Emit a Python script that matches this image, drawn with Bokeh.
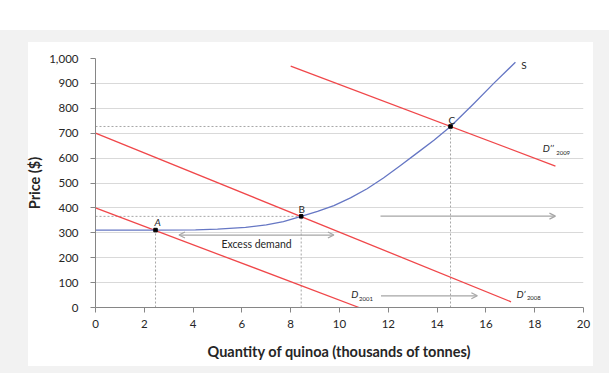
from bokeh.plotting import figure
from bokeh.models import (Range1d, FixedTicker, NumeralTickFormatter, Label,
                          Arrow, OpenHead)
from bokeh.embed import file_html
from bokeh.resources import INLINE

# ---- data ----
x_ticks = [0, 2, 4, 6, 8, 10, 12, 14, 16, 18, 20]
y_ticks = [0, 100, 200, 300, 400, 500, 600, 700, 800, 900, 1000]

supply_q = [0, 2.46, 4.1, 5.0, 6.15, 7.0, 7.7, 8.43, 9.1, 9.77, 10.45, 11.13, 11.8,
            12.5, 13.2, 13.87, 14.55, 15.5, 16.32, 17.21]
supply_p = [311, 311, 312, 315, 322, 332, 345, 366, 386, 409, 440, 477, 520,
            570, 622, 672, 727, 818, 900, 985]

d2001_q = [0, 10.8]
d2001_p = [400, 0]
d2008_q = [0, 17.03]
d2008_p = [700, 23]
d2009_q = [8.0, 18.85]
d2009_p = [969, 568]

eq_names = ["A", "B", "C"]
eq_q = [2.46, 8.43, 14.55]
eq_p = [311, 366, 727]

excess_q = [3.42, 9.77]
excess_p = 291
shift_mid_q = [11.68, 18.85]
shift_mid_p = 367
shift_low_q = [11.7, 15.65]
shift_low_p = 47

FONT = "Lato"
RED = "#f0474a"
BLUE = "#6677c4"
GRAY = "#a6a6a6"

p = figure(width=609, height=373, output_backend="svg", toolbar_location=None,
           x_range=Range1d(0, 20), y_range=Range1d(0, 1000),
           min_border_left=95, min_border_right=26, min_border_top=58, min_border_bottom=66,
           background_fill_color="white", border_fill_color=None)
p.outline_line_color = None
p.styles = {"background": "linear-gradient(#ffffff, #ffffff) 28px 42px / 565px 324px no-repeat, "
                          "linear-gradient(#f2f2f2, #f2f2f2) 0px 30px / 100% 100% no-repeat, #ffffff"}

# axes
for ax in (p.xaxis[0], p.yaxis[0]):
    ax.axis_line_color = "#868686"
    ax.major_tick_line_color = "#868686"
    ax.major_tick_out = 5
    ax.major_tick_in = 0
    ax.minor_tick_line_color = None
    ax.major_label_text_font = FONT
    ax.major_label_text_font_size = "11.5px"
    ax.major_label_text_color = "#262626"
    ax.axis_label_text_font = FONT
    ax.axis_label_text_font_size = "14.5px"
    ax.axis_label_text_font_style = "bold"
    ax.axis_label_text_color = "#262626"

p.xaxis.ticker = FixedTicker(ticks=x_ticks)
p.yaxis.ticker = FixedTicker(ticks=y_ticks)
p.yaxis.formatter = NumeralTickFormatter(format="0,0")
p.xaxis.axis_label = "Quantity of quinoa (thousands of tonnes)"
p.yaxis.axis_label = "Price ($)"
p.xaxis.major_label_standoff = 7
p.xaxis.axis_label_standoff = 12
p.yaxis.major_label_standoff = 12
p.yaxis.axis_label_standoff = 3

p.xgrid.grid_line_color = None
p.ygrid.grid_line_color = "#d9d9d9"

# dotted guide lines
for q, pr in zip(eq_q, eq_p):
    p.line([q, q], [0, pr], line_color=GRAY, line_dash="2 2", line_width=1)
for q, pr in zip(eq_q[1:], eq_p[1:]):
    p.line([0, q], [pr, pr], line_color=GRAY, line_dash="2 2", line_width=1)

# demand and supply curves
p.line(d2001_q, d2001_p, line_color=RED, line_width=1.3)
p.line(d2008_q, d2008_p, line_color=RED, line_width=1.3)
p.line(d2009_q, d2009_p, line_color=RED, line_width=1.3)
p.line(supply_q, supply_p, line_color=BLUE, line_width=1.3, line_join="round")

p.scatter(eq_q, eq_p, marker="square", size=3.5, color="black")

# arrows
def arrow(q0, q1, pr, both=False):
    head = dict(size=6, line_color=GRAY, line_width=1.2)
    p.add_layout(Arrow(x_start=q0, y_start=pr, x_end=q1, y_end=pr,
                       start=OpenHead(**head) if both else None,
                       end=OpenHead(**head), line_color=GRAY, line_width=1.2))

arrow(excess_q[0], excess_q[1], excess_p, both=True)
arrow(shift_mid_q[0], shift_mid_q[1], shift_mid_p)
arrow(shift_low_q[0], shift_low_q[1], shift_low_p)

def lab(x, y, text, size="10px", style="normal", align="left", baseline="middle", color="#262626"):
    p.add_layout(Label(x=x, y=y, text=text, text_font=FONT, text_font_size=size,
                       text_font_style=style, text_align=align, text_baseline=baseline,
                       text_color=color))

# point labels
lab(2.55, 345, "A", size="10px", style="italic", align="center")
lab(8.45, 396, "B", size="10px", align="center")
lab(14.6, 755, "C", size="10px", align="center")
lab(17.45, 972, "S", size="10px")
lab(6.6, 256, "Excess demand", size="10.5px", align="center")

# curve labels with subscripts
lab(10.48, 56, "D", size="10px", style="italic")
lab(10.8, 36, "2001", size="6px")
lab(17.25, 56, "D\u2019", size="10px", style="italic")
lab(17.68, 40, "2008", size="6px")
lab(18.33, 642, "D\u2019\u2019", size="10px", style="italic")
lab(18.88, 622, "2009", size="6px")

open("out.html", "w").write(file_html(p, INLINE))
